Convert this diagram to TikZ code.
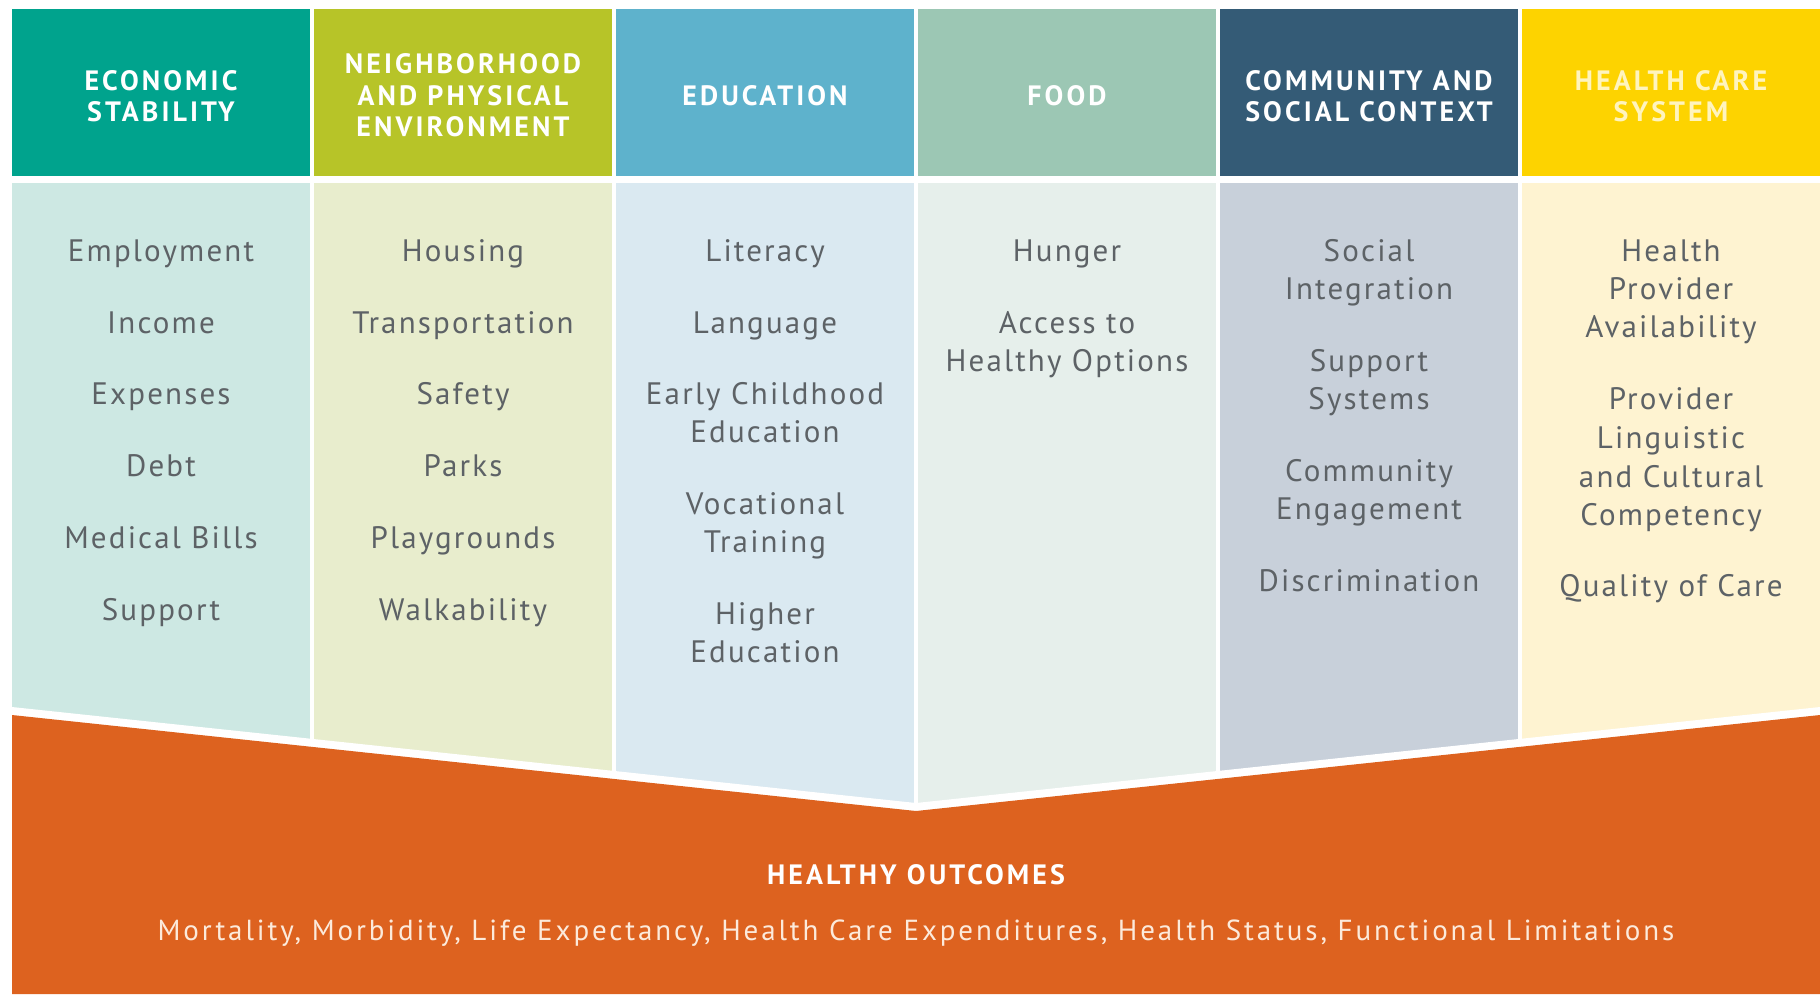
\documentclass[tikz,border=0pt]{standalone}
\usepackage{fontspec}
\setmainfont{PT Sans}
\newfontfamily\bodyf[LetterSpace=7]{PT Sans}
\newfontfamily\headf[LetterSpace=11]{PT Sans}
\newfontfamily\outf[LetterSpace=10]{PT Sans}
\definecolor{hA}{HTML}{00A38D}
\definecolor{hB}{HTML}{B7C428}
\definecolor{hC}{HTML}{5EB2CC}
\definecolor{hD}{HTML}{9CC7B4}
\definecolor{hE}{HTML}{345B76}
\definecolor{hF}{HTML}{FDD300}
\definecolor{bA}{HTML}{CDE8E3}
\definecolor{bB}{HTML}{E8EDCD}
\definecolor{bC}{HTML}{DAE9F1}
\definecolor{bD}{HTML}{E6EFEB}
\definecolor{bE}{HTML}{C8D0DA}
\definecolor{bF}{HTML}{FEF3D1}
\definecolor{orng}{HTML}{DD621F}
\definecolor{txtgray}{HTML}{5D6266}
\definecolor{paleyel}{HTML}{FFF4BE}
\definecolor{cream}{HTML}{FCEADB}
\begin{document}
\begin{tikzpicture}[x=1pt,y=-1pt,
  hdrbox/.style={anchor=north west, minimum width=298pt, minimum height=167pt, inner sep=0pt, outer sep=0pt},
  hdrtxt/.style={anchor=base, text=white, font=\headf\bfseries\fontsize{28}{31}\selectfont, inner sep=0pt},
  itm/.style={anchor=base, text=txtgray, font=\bodyf\fontsize{31}{38}\selectfont, inner sep=0pt},
  outtitle/.style={anchor=base, text=white, font=\headf\bfseries\fontsize{28}{31}\selectfont, inner sep=0pt},
  outtxt/.style={anchor=base, text=cream, font=\outf\fontsize{29}{31}\selectfont, inner sep=0pt}]
\useasboundingbox[fill=white] (0,0) rectangle (1820,994);
% columns
\foreach \i/\hc/\bc in {0/hA/bA,1/hB/bB,2/hC/bC,3/hD/bD,4/hE/bE,5/hF/bF}{
  \fill[\bc] (12+302*\i,183) rectangle +(298,660);
  \node[hdrbox,fill=\hc] (hdr\i) at (12+302*\i,9) {};
}
% outcome band
\fill[white] (12,707) -- (916,803) -- (1820,707) -- (1820,994) -- (12,994) -- cycle;
\fill[orng] (12,715) -- (916,811) -- (1820,715) -- (1820,994) -- (12,994) -- cycle;
% header texts
\node[hdrtxt] (h0a) at (161,90.5) {ECONOMIC};
\node[hdrtxt] (h0b) at (161,121) {STABILITY};
\node[hdrtxt] (h1a) at (463,73.5) {NEIGHBORHOOD};
\node[hdrtxt] (h1b) at (463,105) {AND PHYSICAL};
\node[hdrtxt] (h1c) at (463,136) {ENVIRONMENT};
\node[hdrtxt] (h2a) at (765,105) {EDUCATION};
\node[hdrtxt] (h3a) at (1067,105) {FOOD};
\node[hdrtxt] (h4a) at (1369,90.5) {COMMUNITY AND};
\node[hdrtxt] (h4b) at (1369,121) {SOCIAL CONTEXT};
\node[hdrtxt,text=paleyel] (h5a) at (1671,90.5) {HEALTH CARE};
\node[hdrtxt,text=paleyel] (h5b) at (1671,121) {SYSTEM};
% column 1
\foreach \t/\y [count=\k] in {Employment/261,Income/333,Expenses/404,Debt/476,Medical Bills/548,Support/620}
  \node[itm] (a\k) at (161,\y) {\t};
% column 2
\foreach \t/\y [count=\k] in {Housing/261,Transportation/333,Safety/404,Parks/476,Playgrounds/548,Walkability/620}
  \node[itm] (b\k) at (463,\y) {\t};
% column 3
\foreach \t/\y [count=\k] in {Literacy/261,Language/333,Early Childhood/404,Education/442,Vocational/514,Training/552,Higher/624,Education/662}
  \node[itm] (c\k) at (765,\y) {\t};
% column 4
\foreach \t/\y [count=\k] in {Hunger/261,Access to/333,Healthy Options/371}
  \node[itm] (d\k) at (1067,\y) {\t};
% column 5
\foreach \t/\y [count=\k] in {Social/261,Integration/299,Support/371,Systems/409,Community/481,Engagement/519,Discrimination/591}
  \node[itm] (e\k) at (1369,\y) {\t};
% column 6
\foreach \t/\y [count=\k] in {Health/261,Provider/299,Availability/337,Provider/409,Linguistic/448,and Cultural/487,Competency/525,Quality of Care/596}
  \node[itm] (f\k) at (1671,\y) {\t};
% outcomes
\node[outtitle] (ot) at (916,884) {HEALTHY OUTCOMES};
\node[outtxt] (ol) at (916,940) {Mortality, Morbidity, Life Expectancy, Health Care Expenditures, Health Status, Functional Limitations};
\end{tikzpicture}
\end{document}
